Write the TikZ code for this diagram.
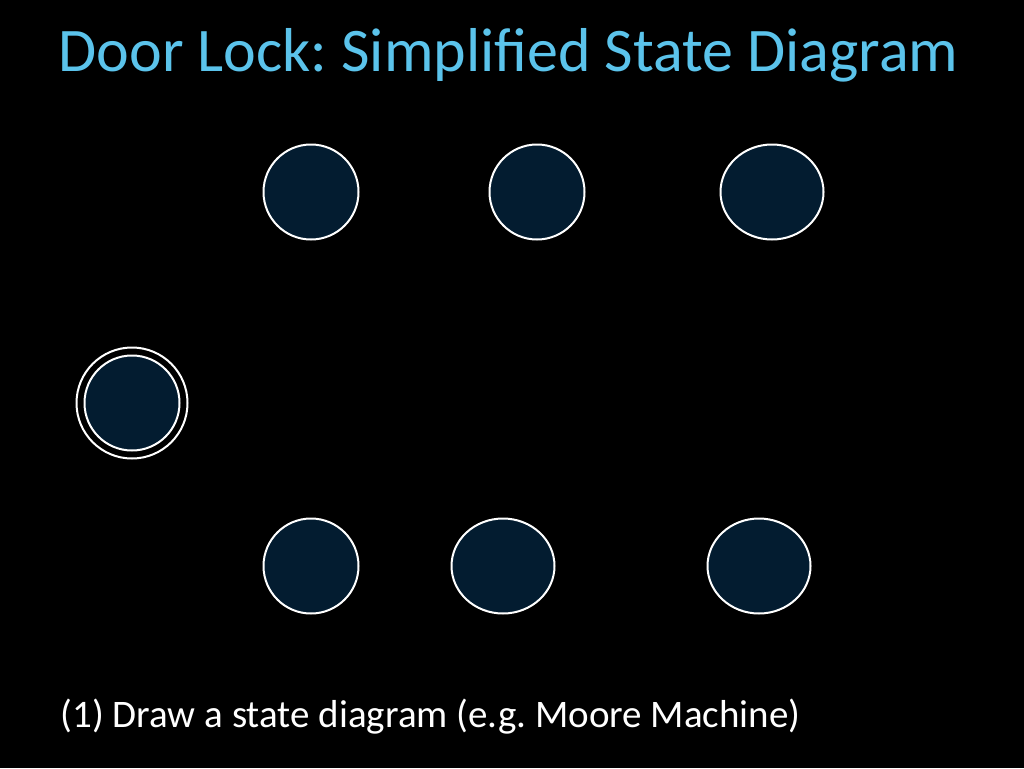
\documentclass[tikz,border=0pt]{standalone}
\usepackage{fontspec}
\setmainfont{Carlito}
\usetikzlibrary{shapes.geometric}
\definecolor{titleblue}{HTML}{5BC3EB}
\definecolor{statefill}{HTML}{031C30}
\frenchspacing
\begin{document}
\begin{tikzpicture}[x=1pt,y=-1pt,
  state/.style={ellipse,draw=white,fill=statefill,line width=2pt,inner sep=0pt,minimum width=#1,minimum height=95pt},
  state/.default=95pt]
\fill[black] (0,0) rectangle (1024,768);
\useasboundingbox (0,0) rectangle (1024,768);
\node[anchor=west,text=titleblue,font=\fontsize{62}{66}\selectfont\frenchspacing] (title) at (55,55) {Door Lock: Simplified State Diagram};
\node[state] (s1) at (311,192) {};
\node[state] (s2) at (537,192) {};
\node[state=103pt] (s3) at (772,192) {};
\node[circle,draw=white,line width=2pt,inner sep=0pt,minimum size=111pt] (s0o) at (132,403) {};
\node[state] (s0) at (132,403) {};
\node[state] (s4) at (311,566) {};
\node[state=103pt] (s5) at (503,566) {};
\node[state=103pt] (s6) at (759,566) {};
\node[anchor=west,text=white,font=\fontsize{39}{44}\selectfont\frenchspacing] (note) at (57,717) {(1) Draw a state diagram (e.g. Moore Machine)};
\end{tikzpicture}
\end{document}
